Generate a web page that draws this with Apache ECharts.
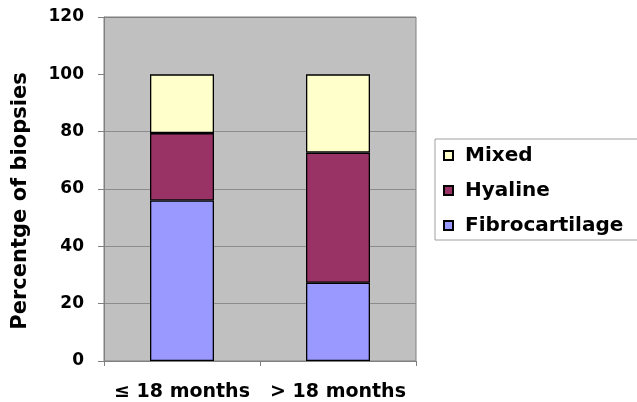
<!DOCTYPE html>
<html><head><meta charset="utf-8">
<script src="https://cdn.jsdelivr.net/npm/echarts@6/dist/echarts.min.js"></script>
<style>html,body{margin:0;padding:0;background:#fff}#c{width:637px;height:402px}</style>
</head><body><div id="c"></div>
<script>
const categories = ['≤ 18 months', '> 18 months'];
const fibrocartilage = [56, 27.3];
const hyaline = [23.5, 45.4];
const mixed = [20.5, 27.3];
const yTicks = [0, 20, 40, 60, 80, 100, 120];

const FONT = 'DejaVu Sans';
const chart = echarts.init(document.getElementById('c'), null, {renderer: 'canvas'});
const barStyle = (color) => ({color: color, borderColor: '#000', borderWidth: 1.3});
chart.setOption({
  animation: false,
  backgroundColor: '#fff',
  grid: {left: 104, right: 221, top: 17, bottom: 40, show: true, backgroundColor: '#c0c0c0', borderColor: '#808080', borderWidth: 1},
  legend: {
    orient: 'vertical', left: 435, top: 139,
    data: ['Mixed', 'Hyaline', 'Fibrocartilage'],
    icon: 'rect',
    itemWidth: 9, itemHeight: 9, itemGap: 14,
    padding: [6, 60, 4, 8],
    borderColor: '#a0a0a0', borderWidth: 1,
    textStyle: {fontFamily: FONT, fontWeight: 'bold', fontSize: 20, color: '#000', lineHeight: 21, padding: [0, 0, 0, 7]},
    selectedMode: false
  },
  xAxis: {
    type: 'category', data: categories,
    axisLine: {lineStyle: {color: '#808080', width: 1}},
    axisTick: {show: true, length: 5, lineStyle: {color: '#808080'}},
    axisLabel: {interval: 0, fontFamily: FONT, fontWeight: 'bold', fontSize: 19, color: '#000', margin: 22}
  },
  yAxis: {
    type: 'value', min: yTicks[0], max: yTicks[yTicks.length - 1], interval: 20,
    name: 'Percentge of biopsies', nameLocation: 'middle', nameGap: 73, nameRotate: 90,
    nameTextStyle: {fontFamily: FONT, fontWeight: 'bold', fontSize: 21, color: '#000', padding: [0, 24, 0, 0]},
    axisLine: {show: true, lineStyle: {color: '#808080', width: 1}},
    axisTick: {show: true, length: 6, lineStyle: {color: '#808080'}},
    axisLabel: {fontFamily: FONT, fontWeight: 'bold', fontSize: 17, color: '#000', margin: 20},
    splitLine: {show: true, lineStyle: {color: ['#808080', '#8c8c8c', '#8c8c8c', '#8c8c8c', '#8c8c8c', 'rgba(0,0,0,0)', '#808080'], width: 1}}
  },
  series: [
    {name: 'Fibrocartilage', type: 'bar', stack: 's', data: fibrocartilage, barWidth: 64, itemStyle: barStyle('#9999ff')},
    {name: 'Hyaline', type: 'bar', stack: 's', data: hyaline, barWidth: 64, itemStyle: barStyle('#993366')},
    {name: 'Mixed', type: 'bar', stack: 's', data: mixed, barWidth: 64, itemStyle: barStyle('#ffffcc')}
  ]
});
</script></body></html>
